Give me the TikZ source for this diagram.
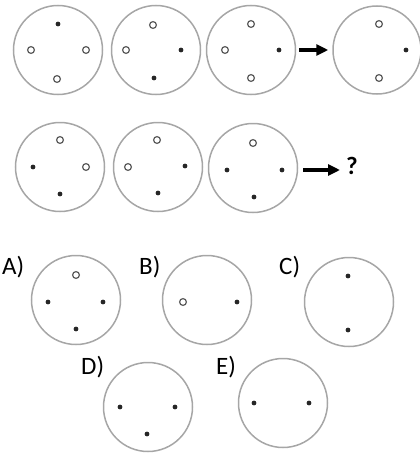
\documentclass[tikz,border=0pt]{standalone}
\usepackage{fontspec}
\setmainfont{Carlito}
\usetikzlibrary{arrows.meta}
\begin{document}
\begin{tikzpicture}[x=1pt,y=-1pt,
  ring/.style={circle,draw=black!35,line width=1.5pt,minimum size=89pt,inner sep=0pt},
  fdot/.style={fill=black!85},
  odot/.style={draw=black!65,line width=1.2pt,fill=white},
  arr/.style={line width=3.2pt,-{Triangle[length=12pt,width=11pt]}},
  lbl/.style={font=\fontsize{25}{27}\selectfont,inner sep=0pt,anchor=west}]
\useasboundingbox (0,0) rectangle (420,455);
\newcommand{\fd}[2]{\fill[fdot] (#1,#2) circle (2.4pt);}
\newcommand{\od}[2]{\draw[odot] (#1,#2) circle (3.4pt);}
% row 1
\node[ring] (c11) at (58,50) {};
\node[ring] (c12) at (156,50) {};
\node[ring] (c13) at (251,50) {};
\node[ring,minimum size=88pt] (c14) at (377,50) {};
\fd{58}{24}\od{31}{50}\od{86}{50}\od{57}{79}
\od{153}{25}\od{126}{50}\fd{181}{50}\fd{154}{78}
\od{251}{24}\od{225}{50}\fd{279}{50}\od{251}{78}
\od{379}{24}\fd{406}{50}\od{379}{78}
\draw[arr,shorten <=3pt,shorten >=4pt] (c13.east) -- (c14.west);
% row 2
\node[ring] (c21) at (60,167) {};
\node[ring] (c22) at (158,167) {};
\node[ring] (c23) at (253,168) {};
\od{60}{140}\fd{33}{167}\od{86}{167}\fd{60}{194}
\od{157}{140}\od{128}{167}\fd{185}{166}\fd{158}{193}
\od{253}{143}\fd{227}{170}\fd{282}{170}\fd{254}{197}
\node[font=\bfseries\fontsize{25}{27}\selectfont,inner sep=0pt] (q) at (352,166) {?};
\draw[arr,shorten <=5pt,shorten >=6pt] (c23.east |- 0,170) coordinate (a2s) (a2s) -- (q.west |- 0,170);
% row 3
\node[lbl] (la) at (2,267) {A)};
\node[lbl] (lb) at (139,267) {B)};
\node[lbl] (lc) at (279,267) {C)};
\node[ring] (ca) at (76,300) {};
\node[ring] (cb) at (207,300) {};
\node[ring] (cc) at (349,302) {};
\od{76}{275}\fd{48}{302}\fd{103}{302}\fd{76}{329}
\od{183}{302}\fd{237}{302}
\fd{348}{276}\fd{348}{330}
% row 4
\node[lbl] (ld) at (81,367) {D)};
\node[lbl] (le) at (216,367) {E)};
\node[ring] (cd) at (148,407) {};
\node[ring] (ce) at (283,403) {};
\fd{120}{407}\fd{175}{407}\fd{147}{434}
\fd{254}{403}\fd{309}{403}
\end{tikzpicture}
\end{document}
